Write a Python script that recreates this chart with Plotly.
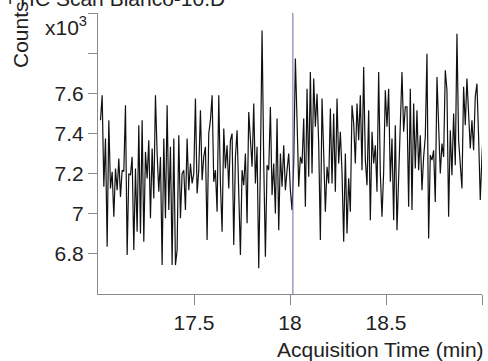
import plotly.graph_objects as go
import numpy as np

# Counts (x10^3), in time order
seg1 = [7.466, 7.590, 7.134, 7.375, 6.836, 7.466, 7.126, 7.209, 6.985, 7.225,
        7.117, 7.275, 7.084, 7.217, 7.210, 7.540, 6.794, 7.200, 7.192, 7.283,
        6.819, 7.225, 6.910, 7.441, 6.902, 7.466, 6.860, 7.308, 7.176, 7.366,
        6.977, 7.325, 7.076, 7.590, 7.300, 7.109, 7.283, 6.744, 7.375, 6.977,
        7.540, 7.018, 7.333, 6.744, 7.375]
seg2 = [6.744, 6.819, 7.391, 6.977, 7.200, 7.217, 7.018, 7.375, 7.117, 7.250,
        7.151, 7.200, 7.574, 7.101, 7.217, 7.516, 7.167, 7.283, 7.333, 6.869,
        7.399, 7.466, 7.590, 7.159, 7.217, 7.010, 7.590, 7.151, 6.910, 7.424,
        7.225, 7.341, 7.126, 7.366, 7.399, 6.844, 7.283, 7.416, 7.093, 6.794,
        7.217, 7.142, 7.300, 6.952, 7.507, 7.375]
seg3 = [7.234, 7.549, 7.151, 7.333, 6.728, 7.250, 7.913, 7.258, 6.786, 7.242,
        7.217, 7.532, 7.093, 7.250, 7.001, 7.474, 6.918, 7.300, 7.134, 7.341,
        7.117, 7.217, 7.300, 7.117, 7.018, 7.250, 7.773, 7.466, 7.134, 7.283,
        7.250, 7.474, 7.035, 7.623, 7.184, 7.706, 7.200, 7.673, 7.433, 7.598,
        7.350, 6.869, 7.574, 7.300, 7.010, 7.234, 7.151, 7.524, 7.151]
seg4 = [7.499, 7.109, 7.574, 7.250, 7.408, 7.209, 6.860, 7.300, 6.902, 7.176,
        7.010, 7.540, 7.449, 7.250, 7.549, 7.366, 7.590, 7.217, 7.731, 7.267,
        7.142, 7.516, 6.968, 7.408, 7.250, 7.341, 7.109, 7.706, 7.200, 6.985,
        7.209, 7.615, 7.433, 7.623, 7.159, 7.375, 6.968, 7.441, 6.918, 7.209,
        7.474, 7.706, 7.408, 7.532]
seg5 = [7.532, 7.035, 7.623, 7.018, 7.549, 7.225, 7.516, 7.217, 7.391, 7.117,
        7.283, 7.383, 7.797, 6.877, 7.292, 7.267, 7.316, 7.059, 7.681, 7.466,
        7.200, 7.350, 7.283, 7.715, 7.615, 6.985, 7.416, 7.192, 7.499, 7.242,
        7.897, 7.366, 7.250, 7.126, 7.632, 7.441, 7.673, 7.516, 7.325, 7.466,
        7.316, 7.582, 7.648, 7.383, 7.068, 7.283, 7.449, 7.283]
counts = seg1 + seg2 + seg3 + seg4 + seg5

t_start, t_end = 17.013, 19.017   # acquisition window (min)
times = np.linspace(t_start, t_end, len(counts))

marker_time = 18.015
x_ticks = [17.5, 18, 18.5, 19]
x_ticktext = ["17.5", "18", "18.5", ""]
y_ticks = [6.8, 7.0, 7.2, 7.4, 7.6, 7.8, 8.0]
y_ticktext = ["6.8", "7", "7.2", "7.4", "7.6", "", ""]

W, H = 488, 361
L, R, T, B = 98, 6, 13, 67
FONT = "Liberation Sans"

fig = go.Figure()
fig.add_trace(go.Scatter(x=times, y=counts, mode="lines",
                         line=dict(color="#111111", width=1.2),
                         hoverinfo="skip", showlegend=False))
fig.add_trace(go.Scatter(x=[marker_time, marker_time], y=[6.6, 8.0], mode="lines",
                         line=dict(color="#6c6ca8", width=1),
                         hoverinfo="skip", showlegend=False))

pw, ph = W - L - R, H - T - B
def px2paper_x(px):
    return (px - L) / pw
def px2paper_y(py):
    return 1 + (T - py) / ph

fig.update_layout(
    width=W, height=H,
    margin=dict(l=L, r=R, t=T, b=B, pad=0),
    paper_bgcolor="white", plot_bgcolor="white",
    font=dict(family=FONT, size=21, color="#222222"),
    xaxis=dict(range=[17.0, 19.0], tickvals=x_ticks, ticktext=x_ticktext,
               ticks="outside", ticklen=10, tickcolor="#8a8a8a", tickwidth=1,
               showline=True, linecolor="#8a8a8a", linewidth=1,
               showgrid=False, zeroline=False, automargin=False,
               tickfont=dict(family=FONT, size=21, color="#222222")),
    yaxis=dict(range=[6.6, 8.0], tickvals=y_ticks, ticktext=y_ticktext,
               ticks="outside", ticklen=9, tickcolor="#8a8a8a", tickwidth=1,
               showline=True, linecolor="#8a8a8a", linewidth=1,
               showgrid=False, zeroline=False, automargin=False,
               tickfont=dict(family=FONT, size=21, color="#222222")),
    annotations=[
        dict(text="Acquisition Time (min)", xref="paper", yref="paper",
             x=px2paper_x(486), y=px2paper_y(349), xanchor="right", yanchor="middle",
             showarrow=False, font=dict(family=FONT, size=21, color="#222222")),
        dict(text="Counts", xref="paper", yref="paper", textangle=-90,
             x=px2paper_x(21), y=px2paper_y(35), xanchor="center", yanchor="middle",
             showarrow=False, font=dict(family=FONT, size=21, color="#222222")),
        dict(text="x10<sup>3</sup>", xref="paper", yref="paper",
             x=px2paper_x(89), y=px2paper_y(26), xanchor="right", yanchor="middle",
             showarrow=False, font=dict(family=FONT, size=21, color="#222222")),
        dict(text="+TIC Scan Blanco-10.D", xref="paper", yref="paper",
             x=px2paper_x(2), y=px2paper_y(-2), xanchor="left", yanchor="middle",
             showarrow=False, font=dict(family=FONT, size=21, color="#222222")),
    ],
)

fig.write_html("out.html", config={"displayModeBar": False},
               post_script="document.body.style.margin='0px';")
